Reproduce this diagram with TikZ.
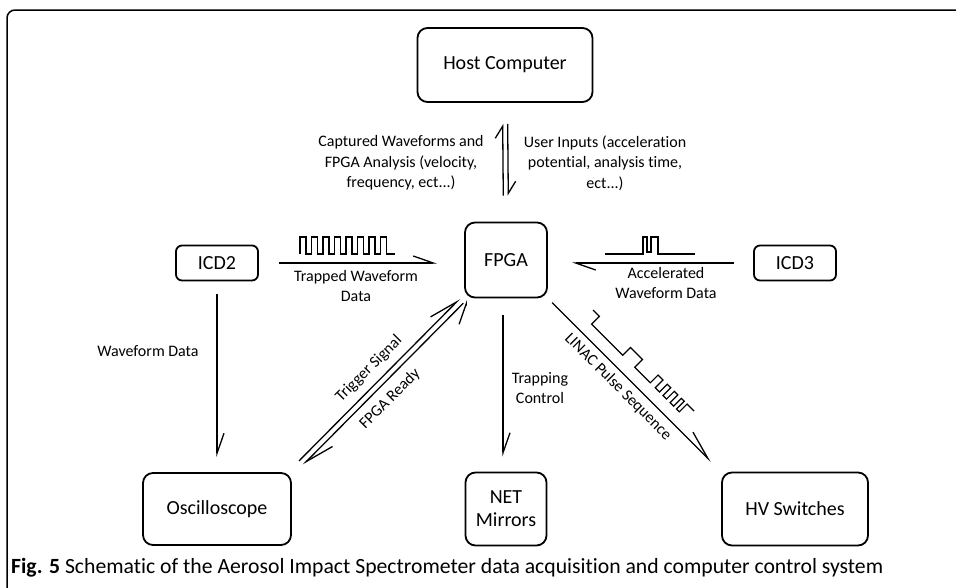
\documentclass[tikz,border=0pt]{standalone}
\usepackage{fontspec}
\setmainfont{Carlito}[Ligatures=NoCommon]
\usepackage{tikz}
\usetikzlibrary{arrows.meta,positioning}

\begin{document}
\begin{tikzpicture}[x=1pt,y=-1pt]
\tikzstyle{box}=[rectangle, rounded corners=10pt, draw=black, line width=1.8pt, font=\fontsize{20}{23}\selectfont, align=center, inner sep=0pt]
\tikzstyle{smallbox}=[box, rounded corners=6pt, minimum width=82pt, minimum height=35pt]
\tikzstyle{lbl}=[font=\fontsize{16}{20.5}\selectfont, align=center, inner sep=0pt]
\tikzstyle{arrow}=[draw, line width=1.3pt, -{Straight Barb[left,length=20pt,width=14pt]}]
\tikzstyle{longbarb}=[-{Straight Barb[left,length=29pt,width=16pt]}]
\tikzstyle{shortbarb}=[-{Straight Barb[left,length=12pt,width=15pt]}]
\tikzstyle{wave}=[line width=1.2pt]

\useasboundingbox (0,0) rectangle (956,587);
\draw[line width=1.5pt, rounded corners=8pt] (7,590) -- (7,10) -- (960,10);

	\node[box, minimum width=175pt, minimum height=74pt] (host) at (505,65) {Host Computer};
	\node[box, minimum width=82pt, minimum height=75pt] (fpga) at (506,260) {FPGA};
	\node[smallbox] (icd2) at (217,263) {ICD2};
	\node[smallbox] (icd3) at (795,263) {ICD3};
	\node[box, minimum width=148pt, minimum height=72pt] (osc) at (217,509) {Oscilloscope};
	\node[box, minimum width=81pt, minimum height=73pt] (net) at (506,509) {NET\\Mirrors};
	\node[box, minimum width=146pt, minimum height=73pt] (hv) at (795,509) {HV Switches};

	\path [arrow]
		([xshift=-2.5pt]fpga.north) edge [shortbarb, shorten <=26pt, shorten >=21pt] ([xshift=-2.5pt]host.south)
		([xshift=2.5pt]host.south) edge [shortbarb, shorten <=21pt, shorten >=26pt] ([xshift=2.5pt]fpga.north)
		(icd2.east) edge [shorten <=20pt, shorten >=27pt] (fpga.west |- icd2.east)
		(icd3.west) edge [shorten <=19pt, shorten >=24pt] (fpga.east |- icd3.west)
		(icd2.south) edge [shorten <=13pt, shorten >=15pt] (osc.north)
		([xshift=-3pt]fpga.south) edge [shorten <=17pt, shorten >=15pt] ([xshift=-3pt]net.north)
		(fpga.south east) edge [longbarb, shorten <=6pt, shorten >=14pt] (hv.north west)
		([xshift=-2pt,yshift=2pt]osc.north east) edge [longbarb, shorten <=13pt, shorten >=3pt] ([xshift=-2pt,yshift=2pt]fpga.south west)
		([xshift=2pt,yshift=-2pt]fpga.south west) edge [longbarb, shorten <=4pt, shorten >=13pt] ([xshift=2pt,yshift=-2pt]osc.north east);

	\node[lbl] (captured) at (401,163) {Captured Waveforms and\\FPGA Analysis (velocity,\\frequency, ect...)};
	\node[lbl] (inputs) at (605,163) {User Inputs (acceleration\\potential, analysis time,\\ect...)};
	\node[lbl] (trapped) at (356,286) {Trapped Waveform\\Data};
	\node[lbl] (accel) at (666,283) {Accelerated\\Waveform Data};
	\node[lbl] (wfdata) at (148,351) {Waveform Data};
	\node[lbl] (trapping) at (540,388) {Trapping\\Control};
	\node[lbl, rotate=45] (trigger) at (369,369) {Trigger Signal};
	\node[lbl, rotate=45] (ready) at (390,399) {FPGA Ready};
	\node[lbl, rotate=-45] (linac) at (618,387) {LINAC Pulse Sequence};

	% pulse sketches over the arrows
	\draw[wave] (300,254) \foreach \i in {0,...,7} { -- ++(0,-17) -- ++(6,0) -- ++(0,17) -- ++(5.5,0) } -- ++(3,0);
	\draw[wave] (605,254) -- (643,254) -- (643,237) -- (647,237) -- (647,252) -- (651,252) -- (651,237) -- (658,237) -- (658,254) -- (695,254);
	\begin{scope}[shift={(593,310)}, rotate=-45]
	\draw[wave] (0,0) -- ++(9,0) -- ++(0,11) -- ++(44,0) -- ++(0,-11) -- ++(17,0) -- ++(0,11) -- ++(22,0) -- ++(0,-11) -- ++(7,0) -- ++(0,11) -- ++(6,0) -- ++(0,-11) -- ++(5,0) -- ++(0,11) -- ++(5,0) -- ++(0,-11) -- ++(5,0) -- ++(0,11) -- ++(5,0) -- ++(0,-11) -- ++(4,0) -- ++(0,11) -- ++(4,0) -- ++(0,-11) -- ++(10,0);
	\end{scope}

	\node[anchor=west, inner sep=0pt, font=\fontsize{21.7}{24}\selectfont] (caption) at (11,568) {\textbf{Fig. 5} Schematic of the Aerosol Impact Spectrometer data acquisition and computer control system};
\end{tikzpicture}
\end{document}
